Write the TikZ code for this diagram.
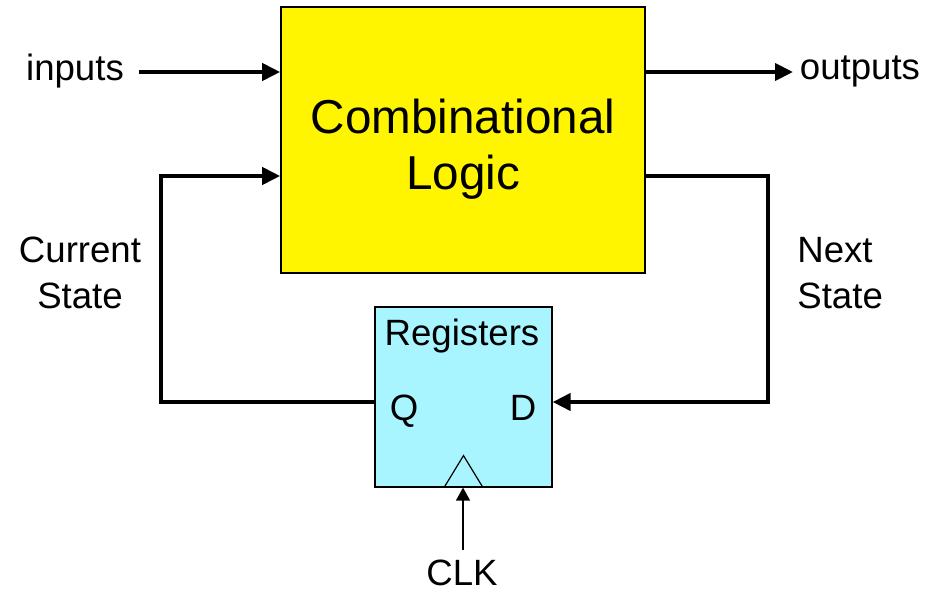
\documentclass[tikz,border=0pt]{standalone}
\usepackage{fontspec}
\setmainfont{Liberation Sans}
\usepackage{xcolor}
\definecolor{cLogic}{HTML}{FFF500}
\definecolor{cReg}{HTML}{A8F4FF}
\usepackage{tikz}
\usetikzlibrary{positioning,arrows.meta,calc}
\tikzset{
  node-logic/.style={draw=black,line width=0.8pt,fill=cLogic,
    minimum width=182pt,minimum height=133pt},
  node-reg/.style={draw=black,line width=0.6pt,fill=cReg,
    minimum width=88.5pt,minimum height=90pt},
  node-big/.style={align=center,font=\fontsize{23.8}{28}\selectfont},
  node-lbl/.style={inner sep=0pt,align=center,
    font=\fontsize{18.3}{23}\selectfont},
  bus/.style={-{Triangle[length=9pt,width=8.5pt]},line width=2pt},
  clk-line/.style={-{Triangle[length=6.5pt,width=7pt]},line width=0.75pt},
}

\begin{document}
\begin{tikzpicture}[x=0.5pt,y=-0.5pt]
  \useasboundingbox (0,0) rectangle (927,594);
  % blocks
  \node[node-logic] (logic) at (463,140) {};
  \node[node-big]   (logic-text) at (463,149.5) {Combinational\\Logic};
  \node[node-reg]   (reg)   at (463.5,397) {};
  \node[node-lbl]   (reg-title) at (462,336) {Registers};
  \node[node-lbl,anchor=base] (reg-q) at (404,420) {Q};
  \node[node-lbl,anchor=base] (reg-d) at (523,420) {D};
  \draw[line width=0.6pt] ($(reg.south)+(-19.5,0)$) -- ++(19.5,-32) -- ++(19.5,32);
  % labels
  \node[node-lbl] (inputs)  at (75,71)   {inputs};
  \node[node-lbl] (outputs) at (860,71)  {outputs};
  \node[node-lbl] (cur)     at (80,273)  {Current\\State};
  \node[node-lbl,align=left,anchor=west] (nxt) at (797,273) {Next\\State};
  \node[node-lbl] (clk)     at (462,573) {CLK};
  % wiring
  \coordinate (in-start)  at (139,72);
  \coordinate (out-end)   at (793,72);
  \coordinate (cur-x)     at (161,176);
  \coordinate (nxt-x)     at (768,176);
  \coordinate (clk-start) at (463,550);
  \draw[bus] (in-start) -- (in-start -| logic.west);
  \draw[bus] (out-end -| logic.east) -- (out-end);
  \draw[bus] (reg.west |- 0,402) -| (cur-x) -- (cur-x -| logic.west);
  \draw[bus] (nxt-x -| logic.east) -| (nxt-x |- 0,402) -- (reg.east |- 0,402);
  \draw[clk-line] (clk-start) -- (clk-start |- reg.south);
\end{tikzpicture}
\end{document}
